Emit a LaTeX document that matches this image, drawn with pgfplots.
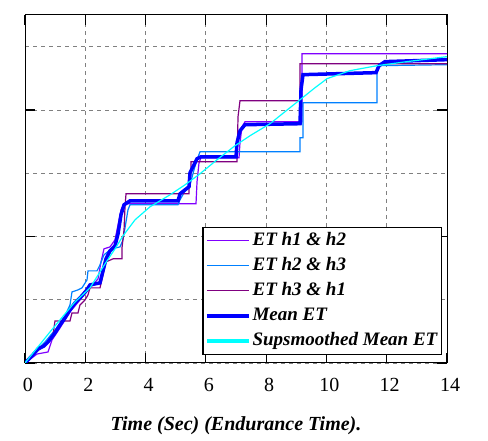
\documentclass[border=0pt]{standalone}
\usepackage{pgfplots}
\pgfplotsset{compat=1.18}
\usepackage{fontspec}
\setmainfont{Liberation Serif}
\definecolor{cViolet}{RGB}{128,0,255}
\definecolor{cLight}{RGB}{0,128,255}
\definecolor{cDark}{RGB}{128,0,128}
\definecolor{cMean}{RGB}{0,0,255}
\definecolor{cCyan}{RGB}{0,255,255}
\begin{document}
\begin{tikzpicture}
\useasboundingbox (0,0) rectangle (488pt,441pt);
\begin{axis}[
 at={(25pt,78pt)}, anchor=south west,
 scale only axis, width=422pt, height=348pt,
 xmin=0, xmax=14, ymin=0, ymax=5.5,
 xtick={0,2,...,14},
 ytick={0,2,4}, yticklabels={},
 minor ytick={1,3,5},
 grid=both,
 major grid style={gray, dash pattern=on 4pt off 4pt, line width=0.8pt},
 minor grid style={gray, dash pattern=on 4pt off 4pt, line width=0.8pt},
 tick align=inside,
 major tick length=10pt, minor tick length=0pt,
 every tick/.style={black, line width=1.2pt},
 axis line style={black, line width=1pt},
 tick label style={font=\fontsize{20}{24}\selectfont\rmfamily},
 xticklabel={\rmfamily\pgfmathprintnumber[assume math mode=true]{\tick}},
 xticklabel style={anchor=base, yshift=-29pt, xshift=3pt},
 xlabel={Time (Sec) (Endurance Time).},
 xlabel style={font=\fontsize{20}{24}\selectfont\bfseries\itshape, at={(axis description cs:0.5,0)}, anchor=base, yshift=-68pt},
 legend style={at={(0.988,0.023)}, anchor=south east, draw=black, line width=1.2pt, fill=white,
   font=\fontsize{19}{23}\selectfont\bfseries\itshape, inner xsep=2pt, inner ysep=1pt, row sep=0pt,
   nodes={inner ysep=3pt, inner xsep=2pt, text height=14pt, text depth=5pt},
   cells={anchor=west},
   /tikz/every even column/.append style={column sep=4pt}},
 legend image code/.code={\draw[#1] (0pt,0pt) -- (42pt,0pt);},
]
\addplot[cViolet, line width=1.2pt, sharp plot] coordinates {
(0,0) (0.398,0.142) (0.763,0.174) (0.896,0.364) (1.161,0.554) (1.493,0.807) (1.825,0.997)
(2.157,1.187) (2.422,1.329) (2.522,1.598) (2.621,1.804) (2.820,1.835) (2.986,1.946)
(3.086,2.184) (3.185,2.421) (3.285,2.516) (5.673,2.516) (5.707,2.864) (5.773,3.165)
(5.839,3.244) (7.100,3.244) (7.133,3.481) (7.200,3.734) (7.299,3.813) (9.191,3.813)
(9.191,4.889) (14,4.889)};
\addlegendentry{ET h1 \& h2}
\addplot[cLight, line width=1.2pt, sharp plot] coordinates {
(0,0) (0.332,0.174) (0.664,0.332) (0.995,0.522) (1.327,0.744) (1.493,0.918) (1.559,1.123)
(1.758,1.155) (1.891,1.187) (2.057,1.313) (2.090,1.456) (2.389,1.456) (2.488,1.551)
(2.621,1.709) (2.820,1.788) (3.019,1.820) (3.152,1.835) (3.251,1.946) (3.351,2.231)
(3.417,2.421) (3.484,2.500) (5.076,2.500) (5.143,2.579) (5.275,2.690) (5.474,2.816)
(5.607,3.054) (5.707,3.212) (5.806,3.339) (9.124,3.339) (9.124,3.560) (9.223,3.560)
(9.223,4.114) (11.679,4.114) (11.679,4.636) (11.778,4.699) (14,4.715)};
\addlegendentry{ET h2 \& h3}
\addplot[cDark, line width=1.2pt, sharp plot] coordinates {
(0,0) (0.332,0.158) (0.664,0.285) (0.929,0.443) (0.995,0.665) (1.493,0.665) (1.559,0.791)
(1.758,0.791) (1.825,0.918) (1.991,0.997) (2.090,1.076) (2.157,1.187) (2.488,1.187)
(2.588,1.392) (2.687,1.598) (2.920,1.646) (3.218,1.646) (3.218,1.820) (3.285,2.104)
(3.318,2.468) (3.351,2.674) (5.441,2.674) (5.441,2.864) (5.508,3.006) (5.508,3.180)
(7.034,3.180) (7.067,3.892) (7.133,4.146) (9.124,4.146) (9.124,4.731) (14,4.731)};
\addlegendentry{ET h3 \& h1}
\addplot[cMean, line width=3.5pt, sharp plot] coordinates {
(0,0) (0.232,0.111) (0.431,0.222) (0.630,0.269) (0.763,0.332) (0.995,0.475) (1.161,0.601)
(1.327,0.712) (1.493,0.839) (1.659,0.949) (1.825,1.028) (2.024,1.139) (2.157,1.234)
(2.488,1.266) (2.588,1.456) (2.687,1.646) (2.820,1.772) (2.986,1.851) (3.086,2.041)
(3.185,2.342) (3.285,2.500) (3.484,2.563) (5.076,2.563) (5.143,2.674) (5.309,2.737)
(5.441,2.785) (5.474,3.006) (5.607,3.133) (5.707,3.228) (5.839,3.259) (7.001,3.259)
(7.034,3.481) (7.133,3.671) (7.299,3.766) (9.124,3.782) (9.157,4.320) (9.223,4.557)
(11.646,4.589) (11.745,4.699) (11.944,4.763) (14,4.794)};
\addlegendentry{Mean ET}
\addplot[cCyan, line width=1.2pt, sharp plot, legend image post style={line width=3.5pt}] coordinates {
(0,0) (0.829,0.491) (1.659,0.965) (2.157,1.187) (2.654,1.566) (2.986,1.804) (3.251,2.009)
(3.650,2.263) (4.147,2.468) (4.811,2.658) (5.309,2.816) (5.806,2.991) (6.370,3.212)
(6.967,3.434) (7.465,3.592) (8.129,3.782) (8.792,4.035) (9.124,4.161) (9.622,4.351)
(10.020,4.494) (10.783,4.620) (11.679,4.699) (12.674,4.763) (14,4.842)};
\addlegendentry{Supsmoothed Mean ET}
\end{axis}
\end{tikzpicture}
\end{document}
